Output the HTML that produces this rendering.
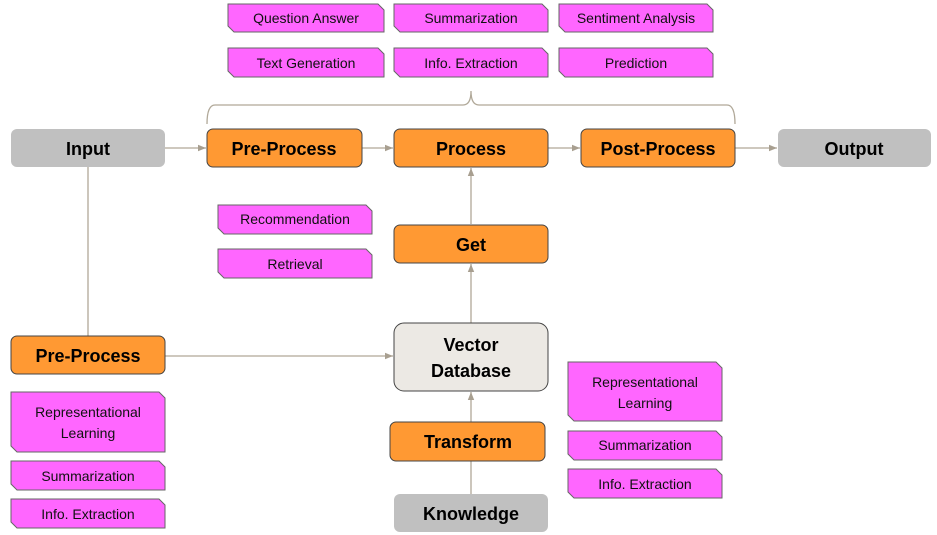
<!DOCTYPE html>
<html><head><meta charset="utf-8"><style>
html,body{margin:0;padding:0;background:#fff;width:937px;height:535px;overflow:hidden}
svg text{font-family:"Liberation Sans",sans-serif;text-anchor:middle;dominant-baseline:central}
.b{font-weight:bold;font-size:18px;fill:#000}
.p{font-size:14px;fill:#111}
</style></head><body>
<svg width="937" height="535" viewBox="0 0 937 535" xmlns="http://www.w3.org/2000/svg">
<defs>
<marker id="a" viewBox="0 0 10 10" refX="10" refY="5" markerWidth="8" markerHeight="8" orient="auto" markerUnits="userSpaceOnUse"><path d="M0,1 L10,5 L0,9 z" fill="#a89f90"/></marker>
</defs>
<g stroke="#b0a898" stroke-width="1.3" fill="none">
<line x1="164" y1="148" x2="206" y2="148" marker-end="url(#a)"/>
<line x1="362" y1="148" x2="393" y2="148" marker-end="url(#a)"/>
<line x1="548" y1="148" x2="580" y2="148" marker-end="url(#a)"/>
<line x1="735" y1="148" x2="777" y2="148" marker-end="url(#a)"/>
<line x1="88" y1="167" x2="88" y2="336"/>
<line x1="165" y1="356" x2="393" y2="356" marker-end="url(#a)"/>
<line x1="471" y1="224" x2="471" y2="168" marker-end="url(#a)"/>
<line x1="471" y1="323" x2="471" y2="264" marker-end="url(#a)"/>
<line x1="471" y1="422" x2="471" y2="392" marker-end="url(#a)"/>
<line x1="471" y1="494" x2="471" y2="461"/>
<path d="M207,124 Q207,105 215,105 L463,105 Q471,105 471,91 Q471,105 479,105 L727,105 Q735,105 735,124"/>
</g>
<g fill="#ff9933" stroke="#444" stroke-width="1">
<rect x="207" y="129" width="155" height="38" rx="6"/>
<rect x="394" y="129" width="154" height="38" rx="6"/>
<rect x="581" y="129" width="154" height="38" rx="6"/>
<rect x="394" y="225" width="154" height="38" rx="6"/>
<rect x="11" y="336" width="154" height="38" rx="6"/>
<rect x="390" y="422" width="155" height="39" rx="6"/>
</g>
<g fill="#c0c0c0">
<rect x="11" y="129" width="154" height="38" rx="6"/>
<rect x="778" y="129" width="153" height="38" rx="6"/>
<rect x="394" y="494" width="154" height="38" rx="6"/>
</g>
<rect x="394" y="323" width="154" height="68" rx="10" fill="#ece9e4" stroke="#444"/>
<g fill="#ff66ff" stroke="#666" stroke-width="1">
<polygon points="228,4 378,4 384,10 384,32 234,32 228,26"/>
<polygon points="394,4 542,4 548,10 548,32 400,32 394,26"/>
<polygon points="559,4 707,4 713,10 713,32 565,32 559,26"/>
<polygon points="228,48 378,48 384,54 384,77 234,77 228,71"/>
<polygon points="394,48 542,48 548,54 548,77 400,77 394,71"/>
<polygon points="559,48 707,48 713,54 713,77 565,77 559,71"/>
<polygon points="218,205 366,205 372,211 372,234 224,234 218,228"/>
<polygon points="218,249 366,249 372,255 372,278 224,278 218,272"/>
<polygon points="11,392 159,392 165,398 165,452 17,452 11,446"/>
<polygon points="11,461 159,461 165,467 165,490 17,490 11,484"/>
<polygon points="11,499 159,499 165,505 165,528 17,528 11,522"/>
<polygon points="568,362 716,362 722,368 722,421 574,421 568,415"/>
<polygon points="568,431 716,431 722,437 722,460 574,460 568,454"/>
<polygon points="568,469 716,469 722,475 722,498 574,498 568,492"/>
</g>
<g class="b">
<text x="88" y="149">Input</text>
<text x="284" y="149">Pre-Process</text>
<text x="471" y="149">Process</text>
<text x="658" y="149">Post-Process</text>
<text x="854" y="149">Output</text>
<text x="471" y="245">Get</text>
<text x="88" y="356">Pre-Process</text>
<text x="471" y="345">Vector</text>
<text x="471" y="371">Database</text>
<text x="468" y="442">Transform</text>
<text x="471" y="514">Knowledge</text>
</g>
<g class="p">
<text x="306" y="18">Question Answer</text>
<text x="471" y="18">Summarization</text>
<text x="636" y="18">Sentiment Analysis</text>
<text x="306" y="63">Text Generation</text>
<text x="471" y="63">Info. Extraction</text>
<text x="636" y="63">Prediction</text>
<text x="295" y="219">Recommendation</text>
<text x="295" y="264">Retrieval</text>
<text x="88" y="412">Representational</text>
<text x="88" y="433">Learning</text>
<text x="88" y="476">Summarization</text>
<text x="88" y="514">Info. Extraction</text>
<text x="645" y="382">Representational</text>
<text x="645" y="403">Learning</text>
<text x="645" y="445">Summarization</text>
<text x="645" y="484">Info. Extraction</text>
</g>
</svg>
</body></html>
